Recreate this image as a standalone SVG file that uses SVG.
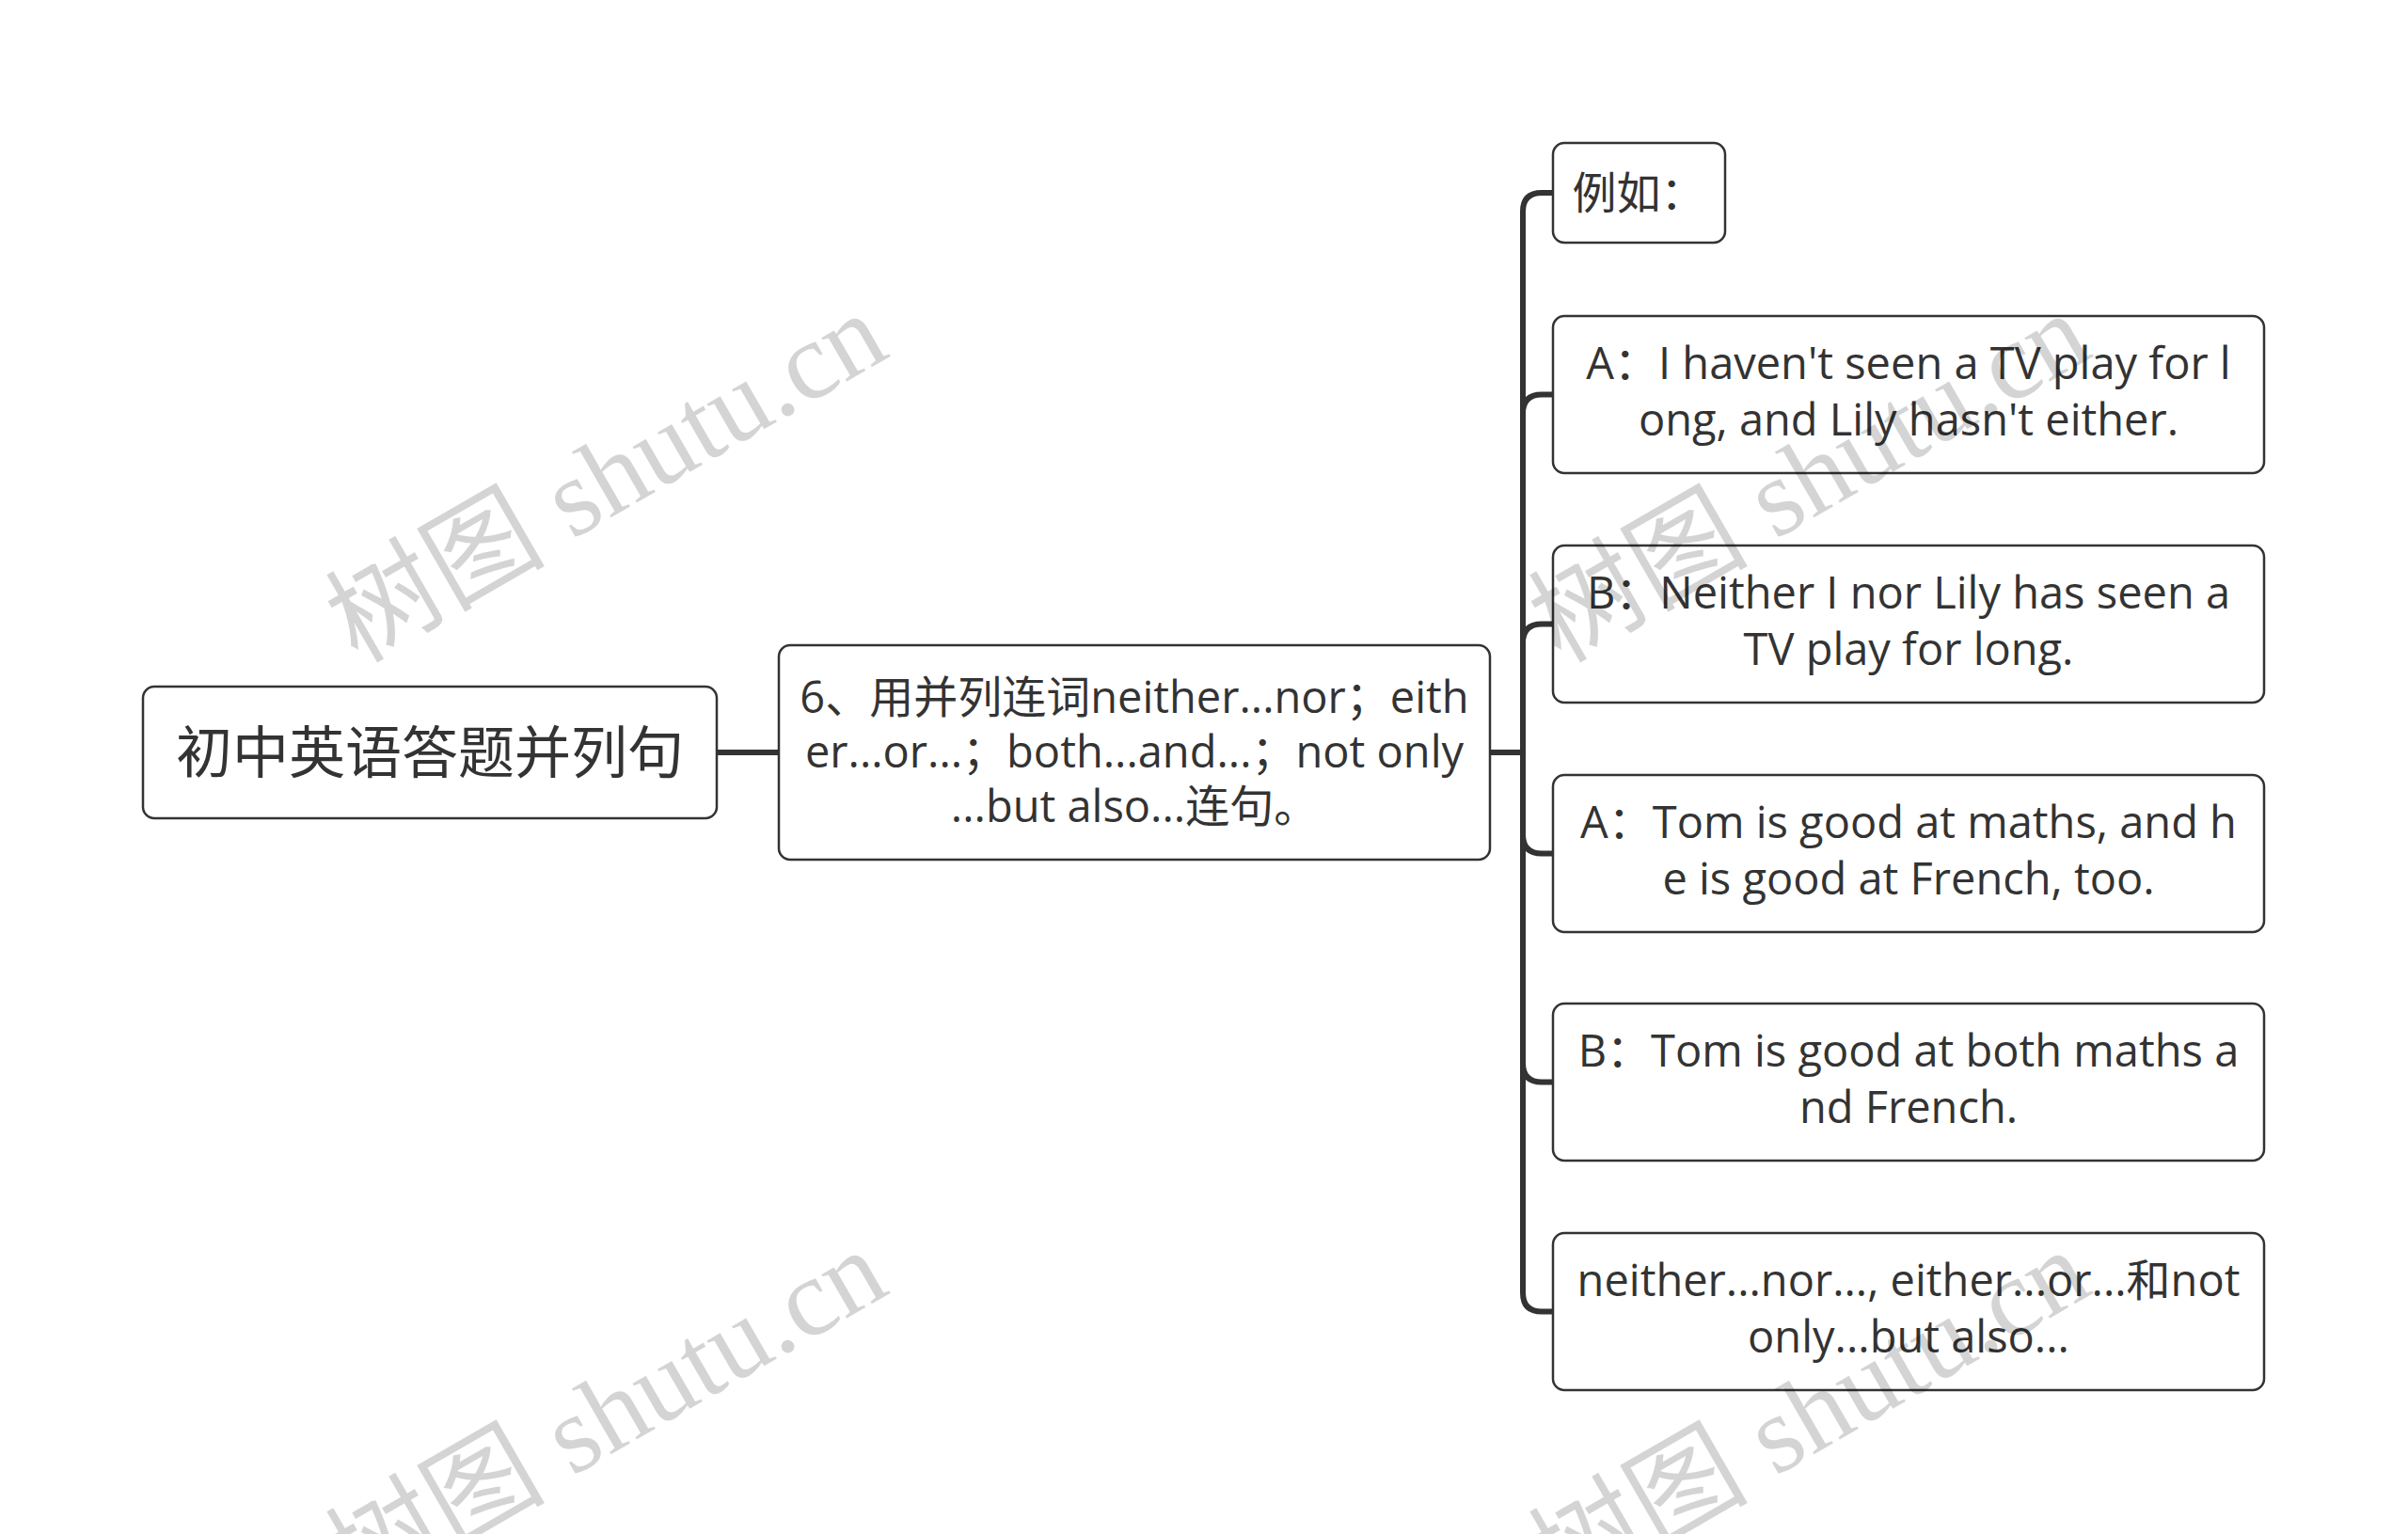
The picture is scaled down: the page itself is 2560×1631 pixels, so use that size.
<svg xmlns="http://www.w3.org/2000/svg" width="2560" height="1631" viewBox="0 0 2560 1631">
<style>
.box{fill:#fff;stroke:#333;stroke-width:2.5}
.t{font-family:'Open Sans','Noto Sans CJK SC',sans-serif;fill:#333;text-anchor:middle;font-size:47px}
.root{font-size:60px}
.link{fill:none;stroke:#333;stroke-width:6}
.wm{font-family:'Liberation Serif','Noto Sans CJK SC',serif;font-size:117px;fill:#000;fill-opacity:0.17}
</style>
<rect width="2560" height="1631" fill="#fff"/>
<g id="connectors">
<path class="link" d="M762,800 H828"/>
<path class="link" d="M1584,800 H1619 V225 Q1619,205 1639,205 H1651"/>
<path class="link" d="M1584,800 H1619 V439.5 Q1619,419.5 1639,419.5 H1651"/>
<path class="link" d="M1584,800 H1619 V683.5 Q1619,663.5 1639,663.5 H1651"/>
<path class="link" d="M1584,800 H1619 V887.5 Q1619,907.5 1639,907.5 H1651"/>
<path class="link" d="M1584,800 H1619 V1130.5 Q1619,1150.5 1639,1150.5 H1651"/>
<path class="link" d="M1584,800 H1619 V1374.5 Q1619,1394.5 1639,1394.5 H1651"/>
</g>
<g id="root">
<rect class="box" x="152" y="730" width="610" height="140" rx="12"/>
<text class="t root" x="457" y="822">初中英语答题并列句</text>
</g>
<g id="n6">
<rect class="box" x="828" y="686" width="756" height="228" rx="12"/>
<text class="t" x="1206" y="758">6、用并列连词neither...nor；eith</text>
<text class="t" x="1206" y="816">er...or...；both...and...；not only</text>
<text class="t" x="1206" y="874">...but also...连句。</text>
</g>
<g id="eg">
<rect class="box" x="1651" y="152" width="183" height="106" rx="12"/>
<text class="t" x="1742" y="222">例如：</text>
</g>
<g id="a1">
<rect class="box" x="1651" y="336" width="756" height="167" rx="12"/>
<text class="t" x="2029" y="403">A：I haven't seen a TV play for l</text>
<text class="t" x="2029" y="463">ong, and Lily hasn't either.</text>
</g>
<g id="b1">
<rect class="box" x="1651" y="580" width="756" height="167" rx="12"/>
<text class="t" x="2029" y="647">B：Neither I nor Lily has seen a</text>
<text class="t" x="2029" y="707">TV play for long.</text>
</g>
<g id="a2">
<rect class="box" x="1651" y="824" width="756" height="167" rx="12"/>
<text class="t" x="2029" y="891">A：Tom is good at maths, and h</text>
<text class="t" x="2029" y="951">e is good at French, too.</text>
</g>
<g id="b2">
<rect class="box" x="1651" y="1067" width="756" height="167" rx="12"/>
<text class="t" x="2029" y="1134">B：Tom is good at both maths a</text>
<text class="t" x="2029" y="1194">nd French.</text>
</g>
<g id="nn">
<rect class="box" x="1651" y="1311" width="756" height="167" rx="12"/>
<text class="t" x="2029" y="1378">neither...nor..., either...or...和not</text>
<text class="t" x="2029" y="1438">only...but also...</text>
</g>
<g id="watermarks">
<text class="wm" transform="translate(380,706) rotate(-30)">树图 shutu.cn</text>
<text class="wm" transform="translate(1659,706) rotate(-30)">树图 shutu.cn</text>
<text class="wm" transform="translate(380,1702) rotate(-30)">树图 shutu.cn</text>
<text class="wm" transform="translate(1659,1702) rotate(-30)">树图 shutu.cn</text>
</g>
</svg>
